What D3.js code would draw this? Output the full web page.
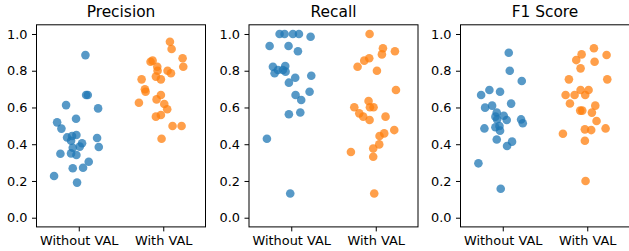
<!DOCTYPE html>
<html><head><meta charset="utf-8">
<script src="https://cdn.jsdelivr.net/npm/d3@7"></script>
<style>body{margin:0;background:#fff}svg{display:block}text{font-family:"DejaVu Sans",sans-serif;fill:#000}</style>
</head><body><div id="chart"></div>
<script>
const categories = ["Without VAL", "With VAL"];
const panelTitles = ["Precision", "Recall", "F1 Score"];
const yTicks = [0.0, 0.2, 0.4, 0.6, 0.8, 1.0];

// values and horizontal jitter (category units)
const precisionWithout = [0.885,0.668,0.668,0.613,0.595,0.519,0.539,0.485,0.437,0.445,0.450,0.419,0.434,0.405,0.387,0.385,0.381,0.348,0.350,0.341,0.305,0.269,0.272,0.227,0.191];
const precisionWithoutJit = [0.079,0.087,0.107,-0.15,0.229,-0.256,-0.032,-0.205,-0.138,-0.079,-0.028,-0.091,0.217,0.039,0.012,0.237,-0.071,-0.217,-0.091,-0.028,0.118,-0.071,0.051,-0.292,-0.02];
const precisionWith = [0.958,0.918,0.868,0.849,0.855,0.822,0.822,0.800,0.800,0.786,0.768,0.753,0.753,0.699,0.686,0.668,0.644,0.626,0.619,0.590,0.550,0.559,0.499,0.499,0.430];
const precisionWithJit = [0.079,0.099,0.229,-0.15,-0.126,0.237,-0.071,-0.067,0.051,0.091,-0.087,-0.256,-0.028,-0.217,-0.209,-0.028,-0.079,-0.288,0.012,0.047,-0.087,-0.028,0.11,0.217,-0.02];

const recallWithout = [1.0,1.0,1.0,1.0,0.985,0.935,0.935,0.906,0.822,0.826,0.804,0.786,0.804,0.795,0.773,0.762,0.735,0.686,0.668,0.641,0.563,0.573,0.430,0.132];
const recallWithoutJit = [-0.138,-0.079,0.02,0.091,0.229,-0.256,-0.032,0.079,-0.217,-0.071,-0.158,-0.197,-0.099,-0.067,0.237,0.047,-0.028,0.217,0.051,0.118,-0.028,0.107,-0.288,-0.012];
const recallWith = [1.0,0.922,0.906,0.889,0.868,0.855,0.822,0.800,0.695,0.635,0.601,0.601,0.601,0.568,0.550,0.550,0.532,0.477,0.459,0.445,0.399,0.377,0.358,0.332,0.132];
const recallWithJit = [-0.073,0.085,0.227,0.073,-0.077,-0.136,-0.215,0.014,0.239,-0.085,-0.254,-0.069,-0.026,-0.195,-0.148,0.116,-0.073,0.219,0.1,0.045,0.041,-0.03,-0.294,-0.03,-0.018];

const f1Without = [0.898,0.800,0.744,0.695,0.668,0.686,0.610,0.621,0.599,0.573,0.555,0.550,0.535,0.532,0.535,0.514,0.499,0.492,0.486,0.474,0.426,0.414,0.390,0.296,0.158];
const f1WithoutJit = [0.071,0.083,0.225,-0.158,-0.256,-0.032,-0.126,0.099,-0.209,-0.071,0.012,-0.087,-0.067,0.047,0.217,0.237,-0.039,-0.087,-0.217,-0.032,-0.071,0.11,0.051,-0.288,-0.024];
const f1With = [0.922,0.889,0.886,0.858,0.849,0.813,0.753,0.753,0.695,0.695,0.668,0.668,0.668,0.622,0.610,0.583,0.583,0.572,0.526,0.457,0.481,0.477,0.486,0.419,0.200];
const f1WithJit = [0.079,-0.067,0.229,-0.13,0.087,-0.079,-0.217,0.237,-0.079,0.016,-0.256,-0.15,-0.024,-0.205,0.095,-0.083,-0.059,0.055,0.11,-0.288,-0.028,0.047,0.217,-0.028,-0.02];

const colors = ["#1f77b4", "#ff7f0e"];

const panels = [
  [[precisionWithout, precisionWithoutJit], [precisionWith, precisionWithJit]],
  [[recallWithout, recallWithoutJit], [recallWith, recallWithJit]],
  [[f1Without, f1WithoutJit], [f1With, f1WithJit]]
];

const W = 629, H = 251;
const svg = d3.select("#chart").append("svg").attr("width", W).attr("height", H);
const lefts = [36.5, 249, 460.5];
const pw = 169;
const plotTop = 24.8, plotBottom = 226.9;
const tickFont = 12.9, titleFont = 15.4;

const y = d3.scaleLinear().domain([-0.05, 1.05]).range([plotBottom, plotTop]);

panels.forEach((groups, pi) => {
  const x = d3.scaleLinear().domain([-0.5, 1.5]).range([lefts[pi], lefts[pi] + pw]);
  const g = svg.append("g");

  groups.forEach((grp, ci) => {
    const [vals, jit] = grp;
    g.append("g").selectAll("circle").data(vals.map((v, i) => ({v, j: jit[i]})))
      .join("circle")
      .attr("cx", d => x(ci + d.j))
      .attr("cy", d => y(d.v))
      .attr("r", 4.3)
      .attr("fill", colors[ci])
      .attr("fill-opacity", 0.75);
  });

  const yAxis = d3.axisLeft(y).tickValues(yTicks).tickFormat(d3.format(".1f")).tickSize(4.5).tickPadding(4.5);
  const ya = g.append("g").attr("transform", `translate(${lefts[pi]},0)`).call(yAxis);
  ya.select(".domain").remove();
  ya.selectAll("text").attr("font-size", tickFont).attr("font-family", '"DejaVu Sans",sans-serif').attr("fill", "#222");
  ya.selectAll("line").attr("stroke", "#000").attr("stroke-width", 1);

  const xAxis = d3.axisBottom(x).tickValues([0, 1]).tickFormat(i => categories[i]).tickSize(4.5).tickPadding(4.5);
  const xa = g.append("g").attr("transform", `translate(0,${plotBottom})`).call(xAxis);
  xa.select(".domain").remove();
  xa.selectAll("text").attr("font-size", tickFont).attr("font-family", '"DejaVu Sans",sans-serif').attr("fill", "#222");
  xa.selectAll("line").attr("stroke", "#000").attr("stroke-width", 1);

  g.append("rect").attr("x", lefts[pi]).attr("y", plotTop).attr("width", pw).attr("height", plotBottom - plotTop)
    .attr("fill", "none").attr("stroke", "#000").attr("stroke-width", 1);

  g.append("text").attr("x", lefts[pi] + pw / 2).attr("y", 17)
    .attr("text-anchor", "middle").attr("font-size", titleFont).text(panelTitles[pi]);
});
</script></body></html>
